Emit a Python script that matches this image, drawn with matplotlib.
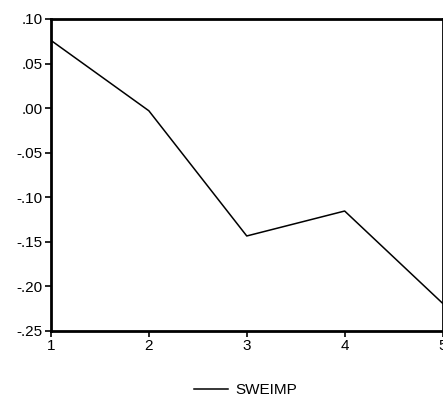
import matplotlib
matplotlib.use("Agg")
import matplotlib.pyplot as plt
import matplotlib.ticker as mticker
from matplotlib.lines import Line2D

# Dados
periods = [1, 2, 3, 4, 5]
sweimp = [0.076, -0.003, -0.1435, -0.1155, -0.219]
y_ticks = [0.10, 0.05, 0.00, -0.05, -0.10, -0.15, -0.20, -0.25]

plt.rcParams["font.family"] = ["Liberation Sans", "DejaVu Sans"]


def _fmt(v, _):
    s = f"{v:.2f}"
    if s.startswith("-0"):
        return "-" + s[2:]
    if s.startswith("0"):
        return s[1:]
    return s


fig = plt.figure(figsize=(4.43, 4.04), dpi=100)
ax = fig.add_axes([0.115, 0.181, 0.884, 0.772])

ax.plot(periods, sweimp, color="black", linewidth=1.1)

ax.set_xlim(1, 5)
ax.set_ylim(-0.25, 0.10)
ax.set_xticks(periods)
ax.set_yticks(y_ticks)
ax.yaxis.set_major_formatter(mticker.FuncFormatter(_fmt))

for s in ax.spines.values():
    s.set_linewidth(2)
ax.tick_params(direction="out", length=4, width=1.2, labelsize=11, pad=2)

handle = Line2D([0], [0], color="black", linewidth=1.1)
fig.legend([handle], ["SWEIMP"], loc="center", bbox_to_anchor=(0.555, 0.035),
           frameon=False, fontsize=11, handlelength=2.2, handletextpad=0.5)

fig.savefig("out.png", dpi=100, facecolor="white")
